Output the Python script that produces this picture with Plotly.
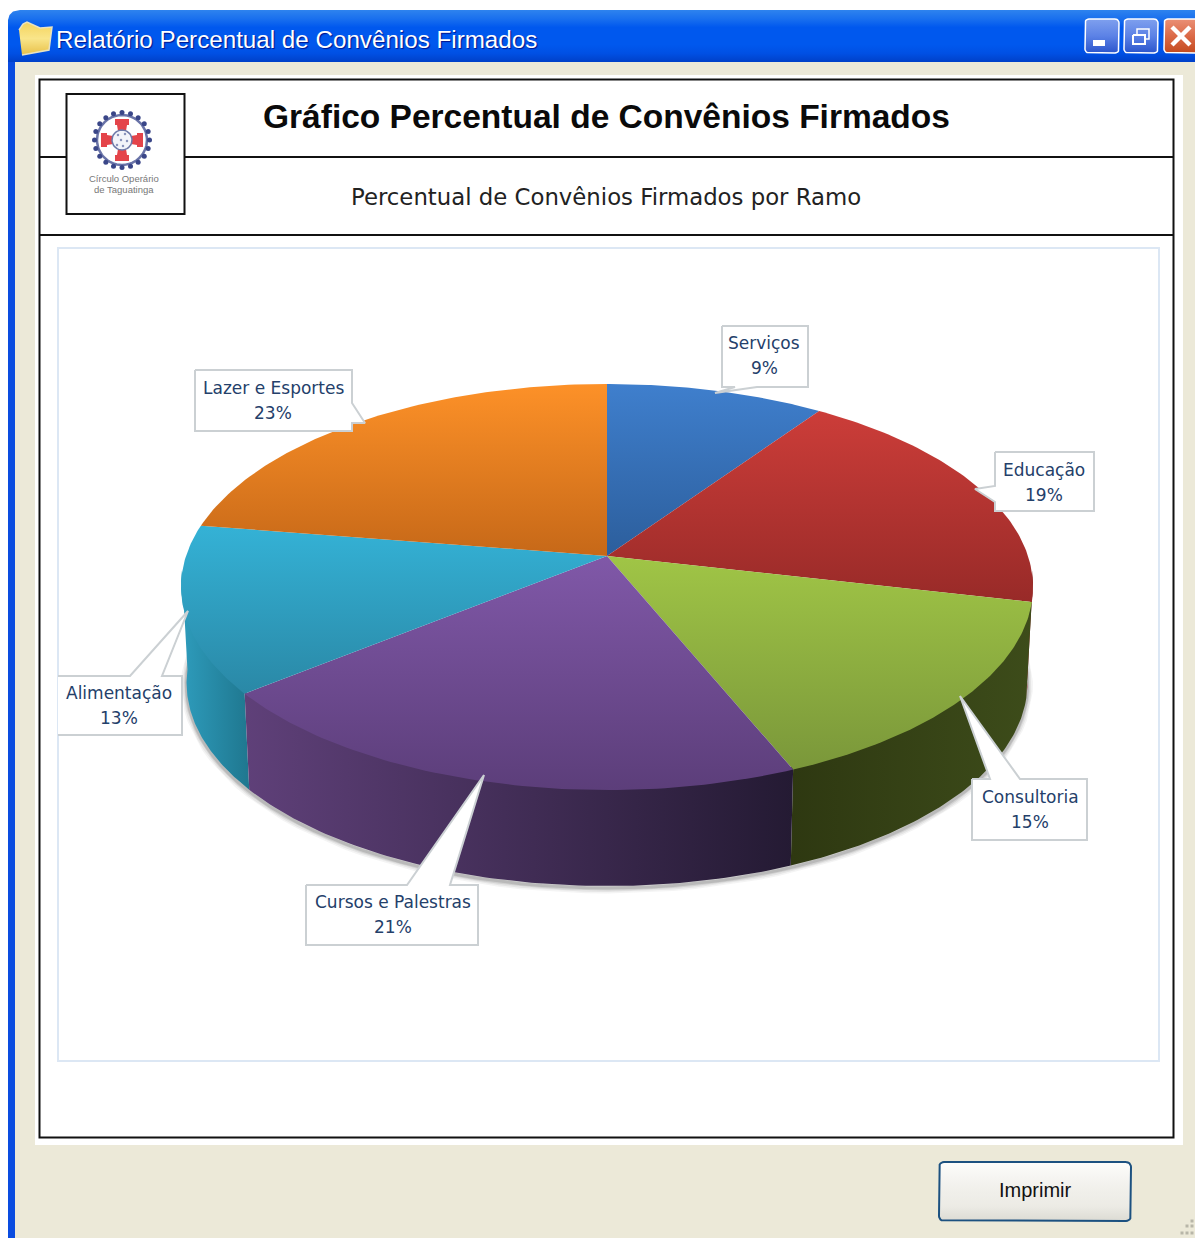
import math
import plotly.graph_objects as go

# ---- data ----
categories = ["Serviços", "Educação", "Consultoria", "Cursos e Palestras", "Alimentação", "Lazer e Esportes"]
value_labels = ["9%", "19%", "15%", "21%", "13%", "23%"]
values = [9.6, 19.0, 15.2, 20.4, 13.3, 22.5]

W, H = 1195, 1238
CX, CY, A, B, P = 607.0, 556.0, 421.0, 198.3, 0.1527
DEPTH, BASE_SCALE = 96.0, 0.987

top_colors = [("#3f7fcd", "#2c5e9c"), ("#cc3d39", "#982a28"), ("#a0c546", "#7a973a"),
              ("#8058a8", "#5c3e7a"), ("#34b2d6", "#2a88a6"), ("#fd9128", "#c66818")]
side_colors = [None, ("#9c2a28", "#7a1f1e"), ("#2e3811", "#3d4c1a"),
               ("#5f4079", "#241a33"), ("#2e9cbc", "#1f778f"), None]


def rim(t, scale=1.0, dy=0.0):
    X, Y = math.sin(t), math.cos(t)
    w = 1 + P * Y
    return CX + scale * A * X / w, CY + dy - B * Y / w


def arc(t0, t1, scale=1.0, dy=0.0, n=80):
    pts = [rim(t0 + (t1 - t0) * i / n, scale, dy) for i in range(n + 1)]
    return [p[0] for p in pts], [p[1] for p in pts]


def rrect(x0, y0, x1, y1, r):
    xs, ys = [], []
    for cx, cy, a0 in ((x1 - r, y0 + r, -90), (x1 - r, y1 - r, 0), (x0 + r, y1 - r, 90), (x0 + r, y0 + r, 180)):
        for i in range(7):
            a = math.radians(a0 + 15 * i)
            xs.append(cx + r * math.cos(a))
            ys.append(cy + r * math.sin(a))
    return xs + xs[:1], ys + ys[:1]


fig = go.Figure()


def poly(xs, ys, fill=None, grad=None, orient="vertical", line=None, lw=0):
    kw = dict(x=xs, y=ys, mode="lines", hoverinfo="skip", showlegend=False, fill="toself",
              line=dict(color=line or "rgba(0,0,0,0)", width=lw))
    if grad:
        # the y axis runs downward, so a vertical gradient is listed top-to-bottom and flipped here
        stops = list(reversed(grad)) if orient == "vertical" else list(grad)
        kw["fillgradient"] = dict(type=orient, colorscale=[[i / (len(stops) - 1), c] for i, c in enumerate(stops)])
    else:
        kw["fillcolor"] = fill
    fig.add_trace(go.Scatter(**kw))


def path(xs, ys, color, width):
    fig.add_trace(go.Scatter(x=xs, y=ys, mode="lines", hoverinfo="skip", showlegend=False,
                             line=dict(color=color, width=width)))


def rect(x0, y0, x1, y1, fill=None, line=None, lw=0):
    return dict(type="rect", xref="x", yref="y", x0=x0, y0=y0, x1=x1, y1=y1, layer="below",
                fillcolor=fill or "rgba(0,0,0,0)", line=dict(color=line or "rgba(0,0,0,0)", width=lw))


def hline(x0, x1, y, color="#111", lw=2):
    return dict(type="line", xref="x", yref="y", x0=x0, x1=x1, y0=y, y1=y, layer="below",
                line=dict(color=color, width=lw))


shapes = [
    rect(8, 55, W + 2, H + 2, "#ECE9D8"),
    rect(8, 55, 15, H + 2, "#0A4CE0"),
    rect(35, 75, 1183, 1145, "#FFFFFF"),
    rect(39.5, 79.5, 1173.5, 1137.5, "#FFFFFF", "#111111", 2),
    hline(40, 1173, 157),
    hline(40, 1173, 235),
    rect(66.5, 94, 184.5, 214, "#FFFFFF", "#111111", 2),
    rect(58, 248, 1159, 1061, "#FFFFFF", "#DCE7F4", 2),
]

# ---- window chrome ----
bx = [8, 8, 9.5, 13, 20, W + 2, W + 2, 8]
by = [62, 20, 15, 11.5, 10, 10, 62, 62]
poly(bx, by, grad=["#2E83EE", "#1A70EE", "#0058EE", "#0058EE", "#0058EE", "#0050E4", "#0040C8"])

fx = [19, 23, 27, 37, 40, 52, 49, 22]
fy = [30, 24, 22, 26, 28, 27, 50, 55]
poly(fx, fy, grad=["#F5D35C", "#F9E58A", "#E8C048"], line="#E9E2C0", lw=1.5)

xs, ys = rrect(1085, 19, 1119, 53, 4)
poly(xs, ys, grad=["#7FA0EE", "#5C82E6", "#2B55CC"], line="#FFFFFF", lw=1.5)
poly([1093, 1105, 1105, 1093, 1093], [40, 40, 46, 46, 40], fill="#FFFFFF")
xs, ys = rrect(1124, 19, 1158, 53, 4)
poly(xs, ys, grad=["#7FA0EE", "#5C82E6", "#2B55CC"], line="#FFFFFF", lw=1.5)
path([1137, 1137, 1149, 1149, 1145], [34, 29, 29, 39, 39], "#FFFFFF", 1.5)
poly([1133, 1145, 1145, 1133, 1133], [35, 35, 44, 44, 35], fill="rgba(0,0,0,0)", line="#FFFFFF", lw=2)
xs, ys = rrect(1164, 19, 1200, 53, 4)
poly(xs, ys, grad=["#EA9076", "#DB6A48", "#C44A1E"], line="#FFFFFF", lw=1.5)
path([1172, 1190], [27, 45], "#FFFFFF", 4.5)
path([1172, 1190], [45, 27], "#FFFFFF", 4.5)

# ---- print button and grip ----
xs, ys = rrect(939, 1162, 1131, 1221, 5)
poly(xs, ys, grad=["#FDFDFB", "#F6F5F2", "#F0EFEA", "#ECEBE5", "#DCDBD3"], line="#1C5180", lw=2)
fig.add_trace(go.Scatter(x=[1192, 1187, 1192, 1182, 1187, 1192], y=[1221, 1226, 1226, 1233, 1233, 1233],
                         mode="markers", hoverinfo="skip", showlegend=False,
                         marker=dict(symbol="square", size=3, color="#B8B6A8")))

# ---- logo ----
LX, LY = 122.0, 140.0
ring = [math.radians(i * 360 / 20) for i in range(20)]
poly([LX + 25 * math.cos(math.radians(a)) for a in range(0, 361, 6)],
     [LY + 25 * math.sin(math.radians(a)) for a in range(0, 361, 6)],
     fill="rgba(0,0,0,0)", line="#6A74A8", lw=2.5)
fig.add_trace(go.Scatter(x=[LX + 27.5 * math.cos(a) for a in ring], y=[LY + 27.5 * math.sin(a) for a in ring],
                         mode="markers", hoverinfo="skip", showlegend=False,
                         marker=dict(symbol="circle", size=5, color="#3A4688")))
for ang in (0, 90, 180, 270):
    c, s = math.cos(math.radians(ang)), math.sin(math.radians(ang))
    arm = [(9, -4), (15, -5), (15, -7), (21, -7), (21, 7), (15, 7), (15, 5), (9, 4), (9, -4)]
    poly([LX + u * c - v * s for u, v in arm], [LY + u * s + v * c for u, v in arm], fill="#E4444A")
poly([LX + 10 * math.cos(math.radians(a)) for a in range(0, 361, 10)],
     [LY + 10 * math.sin(math.radians(a)) for a in range(0, 361, 10)],
     fill="#F2F4FA", line="#6C78A8", lw=1.5)
fig.add_trace(go.Scatter(x=[118, 125, 121, 127, 117, 123], y=[135, 134, 140, 141, 145, 146],
                         mode="markers", hoverinfo="skip", showlegend=False,
                         marker=dict(size=2.5, color="#8A94BC")))

# ---- pie: soft shadow ----
fractions = [v / sum(values) for v in values]
bounds = [0.0]
for f in fractions:
    bounds.append(bounds[-1] + f * 2 * math.pi)

sx, sy = arc(math.radians(80), math.radians(285), BASE_SCALE, DEPTH + 2)
for width, alpha in ((11, 0.05), (8, 0.07), (5, 0.10), (3, 0.14)):
    path(sx, sy, f"rgba(40,40,40,{alpha})", width)

# ---- pie: side walls, front half only (top edge tucked under the top faces) ----
FRONT0, FRONT1 = math.radians(95), math.radians(265)
for i in (1, 2, 4, 3):
    if side_colors[i] is None:
        continue
    t0, t1 = max(bounds[i], FRONT0), min(bounds[i + 1], FRONT1)
    tx, ty = arc(t0, t1, 1.0, -3)
    ux, uy = arc(t1, t0, BASE_SCALE, DEPTH)
    poly(tx + ux + tx[:1], ty + uy + ty[:1], grad=list(side_colors[i]), orient="horizontal")

# ---- pie: top faces ----
for i in range(len(values)):
    ax, ay = arc(bounds[i], bounds[i + 1])
    poly([CX] + ax + [CX], [CY] + ay + [CY], grad=list(top_colors[i]))

# ---- callouts ----
callouts = [
    ([722, 808, 808, 757, 715, 735, 722, 722], [326, 326, 387, 387, 393, 387, 387, 326], 764, 343, 368),
    ([995, 1094, 1094, 995, 995, 975, 995, 995], [452, 452, 511, 511, 502, 489, 486, 452], 1044, 470, 495),
    ([972, 990, 960, 1020, 1087, 1087, 972, 972], [779, 779, 696, 779, 779, 840, 840, 779], 1030, 797, 822),
    ([306, 407, 484, 450, 478, 478, 306, 306], [885, 885, 775, 885, 885, 945, 945, 885], 393, 902, 927),
    ([58, 130, 188, 162, 182, 182, 58], [676, 676, 611, 676, 676, 735, 735], 119, 693, 718),
    ([195, 352, 352, 365, 352, 352, 195, 195], [370, 370, 403, 423, 423, 431, 431, 370], 273, 388, 413),
]
LABEL = dict(family="DejaVu Sans", size=17, color="#24406A")
annotations = []


def text(x, y, s, font, **kw):
    annotations.append(dict(x=x, y=y, xref="x", yref="y", text=s, showarrow=False, font=font,
                            xanchor=kw.get("xanchor", "center"), yanchor="middle"))


for i, (xs, ys, tx, y1, y2) in enumerate(callouts):
    poly(xs, ys, fill="#FFFFFF", line="#CBD0D3", lw=2)
    text(tx, y1, categories[i], LABEL)
    text(tx, y2, value_labels[i], LABEL)

text(54, 39, "Relatório Percentual de Convênios Firmados",
     dict(family="Liberation Sans", size=24.2, color="#FFFFFF", shadow="1px 1px 1px #00138C"), xanchor="left")
text(606, 116.5, "Gráfico Percentual de Convênios Firmados",
     dict(family="Liberation Sans", size=33.5, color="#0A0A0A", weight="bold"))
text(606, 197, "Percentual de Convênios Firmados por Ramo",
     dict(family="DejaVu Sans", size=22.8, color="#222222"))
text(124, 178.5, "Círculo Operário", dict(family="Liberation Sans", size=9.5, color="#777777"))
text(124, 189.5, "de Taguatinga", dict(family="Liberation Sans", size=9.5, color="#777777"))
text(1035, 1190, "Imprimir", dict(family="Liberation Sans", size=20, color="#111111"))

fig.update_layout(
    width=W, height=H, margin=dict(l=0, r=0, t=0, b=0), autosize=False,
    paper_bgcolor="#FFFFFF", plot_bgcolor="#FFFFFF", showlegend=False,
    xaxis=dict(range=[0, W], visible=False, fixedrange=True),
    yaxis=dict(range=[H, 0], visible=False, fixedrange=True),
    shapes=shapes, annotations=annotations,
)
fig.write_html("out.html", config=dict(displayModeBar=False),
               post_script="document.body.style.margin='0';document.body.style.overflow='hidden';")
